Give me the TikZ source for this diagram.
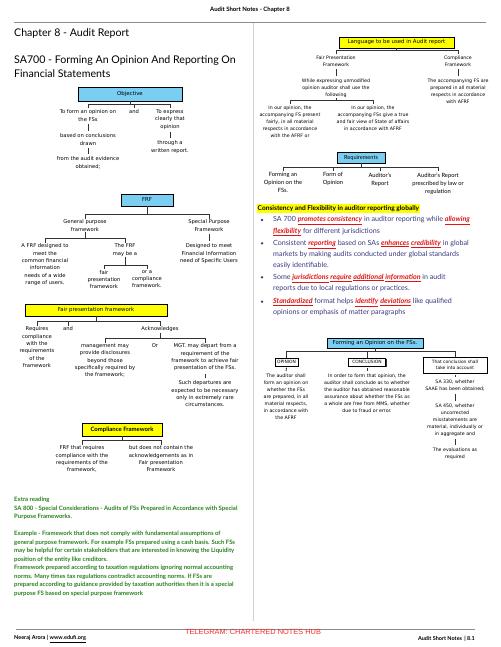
\documentclass[tikz,border=0pt]{standalone}
\usepackage{fontspec}
\setmainfont{Lato}
\newfontfamily\dfont{DejaVu Sans}
\newfontfamily\tgfont{Liberation Sans}
\usetikzlibrary{calc,shadows}
\definecolor{boxblue}{RGB}{122,206,242}
\definecolor{boxyellow}{RGB}{255,255,0}
\definecolor{notegreen}{RGB}{40,128,30}
\definecolor{bulletblue}{RGB}{58,58,128}
\definecolor{keyred}{RGB}{225,20,20}
\definecolor{tgred}{RGB}{245,45,45}
\newcommand\keyw[1]{{\color{keyred}\underline{\textbf{\textit{#1}}}}}
\tikzset{
  lbl/.style={font=\dfont\fontsize{5.2}{7.4}\selectfont, align=center, inner sep=1pt, anchor=north},
  rlbl/.style={lbl, font=\dfont\fontsize{4.7}{7}\selectfont},
  reqlbl/.style={lbl, font=\fontsize{5.8}{8}\selectfont},
  headbox/.style={draw=black, line width=0.5pt, inner sep=0pt, font=\dfont\fontsize{5.4}{6}\selectfont,
    drop shadow={shadow xshift=1.3pt, shadow yshift=-1.3pt, fill=black!80, opacity=1}},
  bluebox/.style={headbox, fill=boxblue},
  yellowbox/.style={headbox, fill=boxyellow},
  whitebox/.style={headbox, fill=white, align=center, inner xsep=1pt, font=\dfont\fontsize{4.4}{6.5}\selectfont},
  conn/.style={draw=black!80, line width=0.8pt},
  bar/.style={draw=black!80, line width=0.9pt, shorten <=1.5pt, shorten >=1.5pt},
  bul/.style={anchor=north west, align=left, inner sep=0pt, text=bulletblue, font=\fontsize{7.1}{11.3}\selectfont},
}
\begin{document}
\begin{tikzpicture}[x=1pt,y=-1pt]
  \useasboundingbox (0,0) rectangle (500,647);
  \fill [white] (0,0) rectangle (500,647);
  % page frame
  \node [font=\bfseries\fontsize{6}{7}\selectfont] (runhead) at (250,10) {Audit Short Notes - Chapter 8};
  \draw [black!45,line width=0.6pt] (14,22.5) -- (486,22.5);
  \draw [black!18,line width=1pt] (253,23) -- (253,621);
  \draw [black!45,line width=0.6pt] (16,629) -- (475,629);
  \node [anchor=west,inner sep=0pt,font=\bfseries\fontsize{5.5}{6}\selectfont] (author) at (14,639) {Neeraj Arora | \underline{www.edufi.org}};
  \node [anchor=east,inner sep=0pt,font=\bfseries\fontsize{5.5}{6}\selectfont] (pageno) at (475,639) {Audit Short Notes \,| 8.1};
  \node [inner sep=0pt,text=tgred,font=\tgfont\fontsize{7.4}{8}\selectfont] (telegram) at (253,631.5) {TELEGRAM: CHARTERED NOTES HUB};

  % titles
  \node [anchor=west,inner sep=0pt,font=\fontsize{10.6}{12}\selectfont] (chap) at (14,33.5) {Chapter 8 - Audit Report};
  \node [anchor=north west,align=left,inner sep=0pt,font=\fontsize{10.6}{14.5}\selectfont] (sa700) at (14,55) {SA700 - Forming An Opinion And Reporting On\\Financial Statements};

  % objective
  \node [bluebox,minimum width=104pt,minimum height=14pt] (obj) at (130,94) {Objective};
  \node [lbl] (objfs) at (88,108.5) {To form an opinion on\\the FSs};
  \node [lbl] (objand) at (134,108.5) {and};
  \node [lbl] (objexp) at (170,108.5) {To express\\clearly that\\opinion};
  \node [lbl] (objconc) at (88,132.5) {based on conclusions\\drawn};
  \node [lbl] (objev) at (88,155.5) {from the audit evidence\\obtained;};
  \node [lbl] (objrep) at (170,139.5) {through a\\written report.};
  \draw [conn] (objfs.north) -- ++(0,-4) -| (objexp.north);
  \draw [conn] (objand.north) -- ++(0,-4);
  \draw [conn] (obj.south) -- ($(obj.south |- objfs.north)+(0,-4)$);
  \draw [bar] (objfs.south) -- (objconc.north);
  \draw [bar] (objconc.south) -- (objev.north);
  \draw [bar] (objexp.south) -- (objrep.north);

  % FRF
  \node [bluebox,minimum width=52pt,minimum height=12pt] (frf) at (147,200) {FRF};
  \node [lbl] (gpf) at (85,218.5) {General purpose\\framework};
  \node [lbl] (spf) at (209,218.5) {Special Purpose\\Framework};
  \node [lbl] (gpfmeet) at (45,242.5) {A FRF designed to\\meet the\\common financial\\information\\needs of a wide\\range of users.};
  \node [lbl] (gpfmay) at (125,242.5) {The FRF\\may be a};
  \node [lbl] (fairfw) at (104,269) {fair\\presentation\\framework};
  \node [lbl] (compfw) at (147,269) {or a\\compliance\\framework.};
  \node [lbl] (spfmeet) at (209,242.5) {Designed to meet\\Financial Information\\need of Specific Users};
  \draw [conn] (gpf.north) -- ++(0,-4) -| (spf.north);
  \draw [conn] (frf.south) -- ($(frf.south |- gpf.north)+(0,-4)$);
  \draw [conn] (gpfmeet.north) -- ++(0,-4) -| (gpfmay.north);
  \draw [conn] (gpf.south) -- ($(gpf.south |- gpfmeet.north)+(0,-4)$);
  \draw [conn] (fairfw.north) -- ++(0,-4) -| (compfw.north);
  \draw [conn] (gpfmay.south) -- ($(gpfmay.south |- fairfw.north)+(0,-4)$);
  \draw [bar] (spf.south) -- (spfmeet.north);

  % fair presentation framework
  \node [yellowbox,minimum width=142pt,minimum height=12pt] (fpbox) at (96,310) {Fair presentation framework};
  \node [lbl] (fpreq) at (37,325.5) {Requires\\compliance\\with the\\requirements\\of the\\framework};
  \node [lbl] (fpand) at (68,325.5) {and};
  \node [lbl] (fpack) at (160,325.5) {Acknowledges};
  \node [lbl] (fpmgt) at (105,342.5) {management may\\provide disclosures\\beyond those\\specifically required by\\the framework;};
  \node [lbl] (fpor) at (155,342.5) {Or};
  \node [lbl] (fpdep) at (205,342.5) {MGT. may depart from a\\requirement of the\\framework to achieve fair\\presentation of the FSs.};
  \node [lbl] (fpsuch) at (205,379.5) {Such departures are\\expected to be necessary\\only in extremely rare\\circumstances.};
  \draw [conn] (fpreq.north) -- ++(0,-4) -| (fpack.north);
  \draw [conn] (fpand.north) -- ++(0,-4);
  \draw [conn] (fpbox.south) -- ($(fpbox.south |- fpreq.north)+(0,-4)$);
  \draw [conn] (fpmgt.north) -- ++(0,-4) -| (fpdep.north);
  \draw [conn] (fpack.south) -- ($(fpack.south |- fpmgt.north)+(0,-4)$);
  \draw [bar] (fpdep.south) -- (fpsuch.north);

  % compliance framework
  \node [yellowbox,minimum width=80pt,minimum height=13pt,font=\bfseries\fontsize{6}{7}\selectfont] (cfbox) at (122,429.5) {Compliance Framework};
  \node [lbl] (cfreq) at (82,444.5) {FRF that requires\\compliance with the\\requirements of the\\framework,};
  \node [lbl] (cfnot) at (161,444.5) {but does not contain the\\acknowledgements as in\\Fair presentation\\Framework};
  \draw [conn] (cfreq.north) -- ++(0,-4) -| (cfnot.north);
  \draw [conn] (cfbox.south) -- ($(cfbox.south |- cfreq.north)+(0,-4)$);

  % extra reading
  \node [anchor=north west,align=left,inner sep=0pt,text=notegreen,font=\bfseries\fontsize{6}{8.5}\selectfont] (extra) at (14,497) {Extra reading\\SA 800 - Special Considerations - Audits of FSs Prepared in Accordance with Special\\Purpose Frameworks.\\[8.5pt]Example - Framework that does not comply with fundamental assumptions of\\general purpose framework. For example FSs prepared using a cash basis. Such FSs\\may be helpful for certain stakeholders that are interested in knowing the Liquidity\\position of the entity like creditors.\\Framework prepared according to taxation regulations ignoring normal accounting\\norms. Many times tax regulations contradict accounting norms. If FSs are\\prepared according to guidance provided by taxation authorities then it is a special\\purpose FS based on special purpose framework};

  % language to be used
  \node [yellowbox,minimum width=115pt,minimum height=11pt] (lang) at (396.5,42.5) {Language to be used in Audit report};
  \node [rlbl] (langfp) at (336,54.5) {Fair Presentation\\Framework};
  \node [rlbl] (langcf) at (458,54.5) {Compliance\\Framework};
  \node [rlbl] (languse) at (336,77.5) {While expressing unmodified\\opinion auditor shall use the\\following};
  \node [rlbl] (langop1) at (290,104.5) {In our opinion, the\\accompanying FS present\\fairly, in all material\\respects in accordance\\with the AFRF or};
  \node [rlbl] (langop2) at (373,104.5) {In our opinion, the\\accompanying FSs give a true\\and fair view of State of affairs\\in accordance with AFRF};
  \node [rlbl] (langcfop) at (458,77.5) {The accompanying FS are\\prepared in all material\\respects in accordance\\with AFRF};
  \draw [conn] (langfp.north) -- ++(0,-4) -| (langcf.north);
  \draw [conn] (lang.south) -- ($(lang.south |- langfp.north)+(0,-4)$);
  \draw [bar] (langfp.south) -- (languse.north);
  \draw [bar] (langcf.south) -- (langcfop.north);
  \draw [conn] (langop1.north) -- ++(0,-4) -| (langop2.north);
  \draw [conn] (languse.south) -- ($(languse.south |- langop1.north)+(0,-4)$);

  % requirements
  \node [bluebox,minimum width=48pt,minimum height=11pt,font=\fontsize{5.6}{6}\selectfont] (reqs) at (361,157.5) {Requirements};
  \node [reqlbl] (reqform) at (283,171.5) {Forming an\\Opinion on the\\FSs.};
  \node [reqlbl] (reqkind) at (333,171.5) {Form of\\Opinion};
  \node [reqlbl] (reqrep) at (380,171.5) {Auditor's\\Report};
  \node [reqlbl] (reqlaw) at (438,171.5) {Auditor's Report\\prescribed by law or\\regulation};
  \draw [conn] (reqform.north) -- ++(0,-4) -| (reqlaw.north);
  \draw [conn] (reqkind.north) -- ++(0,-4);
  \draw [conn] (reqrep.north) -- ++(0,-4);
  \draw [conn] (reqs.south) -- ($(reqs.south |- reqform.north)+(0,-4)$);

  % consistency and flexibility
  \node [anchor=west,fill=boxyellow,inner xsep=0.5pt,inner ysep=1pt,font=\bfseries\fontsize{6.6}{7}\selectfont] (consist) at (257,208.5) {Consistency and Flexibility in auditor reporting globally};
  \foreach \y in {220,243.3,277.3,301.7}
    \fill [bulletblue] (262,\y) circle (1.3);
  \node [bul] (bul1) at (273,216.3) {SA 700 \keyw{promotes consistency} in auditor reporting while \keyw{allowing}\\\keyw{flexibility} for different jurisdictions};
  \node [bul] (bul2) at (273,239.6) {Consistent \keyw{reporting} based on SAs \keyw{enhances} \keyw{credibility} in global\\markets by making audits conducted under global standards\\easily identifiable.};
  \node [bul] (bul3) at (273,273.6) {Some \keyw{jurisdictions} \keyw{require} \keyw{additional} \keyw{information} in audit\\reports due to local regulations or practices.};
  \node [bul] (bul4) at (273,298) {\keyw{Standardized} format helps \keyw{identify} \keyw{deviations} like qualified\\opinions or emphasis of matter paragraphs};

  % forming an opinion
  \node [bluebox,minimum width=96pt,minimum height=10pt] (form) at (375,343) {Forming an Opinion on the FSs.};
  \node [whitebox,minimum width=23pt,minimum height=8pt] (opin) at (286.5,362) {OPINION};
  \node [whitebox,minimum width=37pt,minimum height=8pt] (concl) at (367,362) {CONCLUSION};
  \node [whitebox,minimum width=64pt,minimum height=16pt] (account) at (455,365) {That conclusion shall\\take into account};
  \node [rlbl] (opintxt) at (286,372.5) {The auditor shall\\form an opinion on\\whether the FSs\\are prepared, in all\\material respects,\\in accordance with\\the AFRF};
  \node [rlbl] (concltxt) at (367,372.5) {In order to form that opinion, the\\auditor shall conclude as to whether\\the auditor has obtained reasonable\\assurance about whether the FSs as\\a whole are free from MMS, whether\\due to fraud or error.};
  \node [rlbl] (acc330) at (455,378.5) {SA 330, whether\\SAAE has been obtained;};
  \node [rlbl] (acc450) at (455,402.5) {SA 450, whether\\uncorrected\\misstatements are\\material, individually or\\in aggregate and};
  \node [rlbl] (accev) at (455,446.5) {The evaluations as\\required};
  \draw [conn] (opin.north) -- ++(0,-6) -| (account.north);
  \draw [conn] (concl.north) -- ++(0,-6);
  \draw [conn] (form.south) -- ($(form.south |- opin.north)+(0,-6)$);
  \draw [bar] (opin.south) -- (opintxt.north);
  \draw [bar] (concl.south) -- (concltxt.north);
  \draw [bar] (account.south) -- (acc330.north);
  \draw [bar] (acc330.south) -- (acc450.north);
  \draw [bar] (acc450.south) -- (accev.north);
\end{tikzpicture}
\end{document}
